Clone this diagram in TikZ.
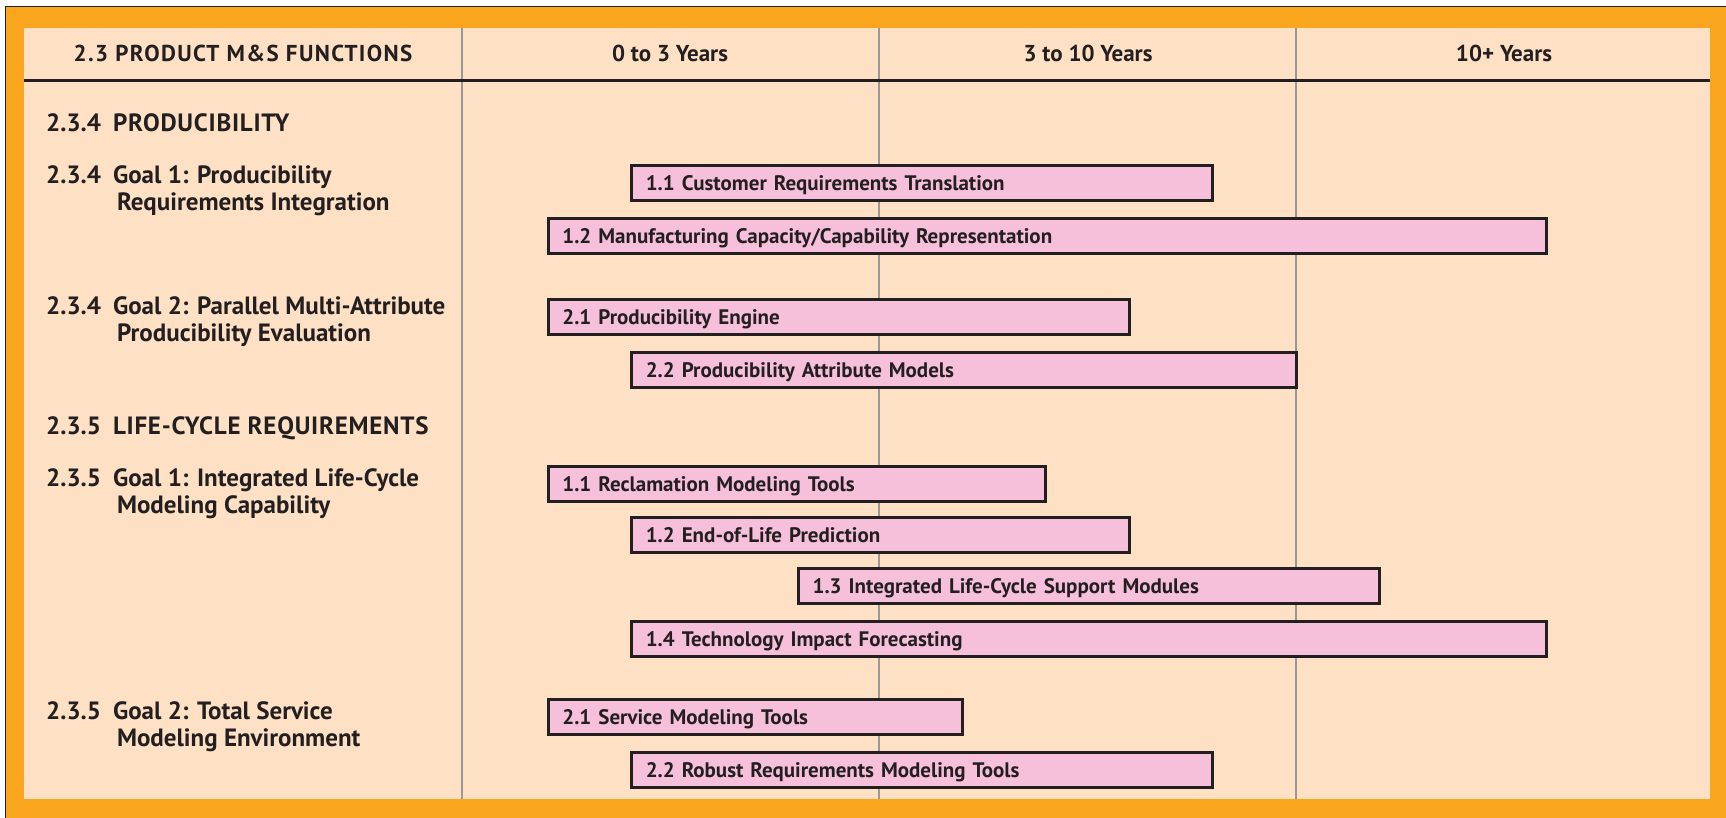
\documentclass[tikz,border=0pt]{standalone}
\usepackage{fontspec}
\setmainfont{PT Sans}
\usetikzlibrary{positioning}
\definecolor{frameorange}{RGB}{249,165,30}
\definecolor{paper}{RGB}{254,225,196}
\definecolor{barpink}{RGB}{246,192,218}
\definecolor{ink}{RGB}{35,31,32}
\definecolor{rulegray}{RGB}{152,152,152}
\newcommand\goallabel[3]{\begin{tabular}{@{}l@{\hspace{12pt}}l@{}}#1&#2\\&\hspace{4pt}#3\end{tabular}}
\newcommand\seclabel[2]{\begin{tabular}{@{}l@{\hspace{12pt}}l@{}}#1&\addfontfeature{LetterSpace=3}#2\end{tabular}}
\begin{document}
\begin{tikzpicture}[x=1pt, y=-1pt,
  bar/.style={draw=ink, line width=3pt, fill=barpink, minimum height=35pt, anchor=west,
    inner xsep=14pt, inner ysep=0pt, text height=15pt, text depth=0pt, align=left, text=ink,
    font=\fontsize{21}{24}\selectfont\bfseries},
  goal/.style={anchor=west, inner sep=0pt, align=left, text=ink, font=\fontsize{25}{27}\selectfont\bfseries},
  head/.style={text=ink, font=\fontsize{23}{26}\selectfont\bfseries}]
  \useasboundingbox (0,0) rectangle (1726,817);
  % frame
  \fill [white] (0,0) rectangle (1726,817);
  \draw [ink, line width=1pt, fill=frameorange] (5,6) rectangle (1728,819);
  \fill [paper] (24,28) rectangle (1710,799);
  % columns
  \foreach \c in {462,879,1296} {
    \draw [rulegray, line width=2.5pt] (\c,28) -- (\c,799);
  };
  \draw [ink, line width=3pt] (24,80) -- (1710,80);
  % header
  \node [head] (hfun) at (243,53) {\addfontfeature{LetterSpace=6}2.3 PRODUCT M\&S FUNCTIONS};
  \node [head] (h03) at (670,53) {0 to 3 Years};
  \node [head] (h310) at (1088,53) {3 to 10 Years};
  \node [head] (h10) at (1504,53) {10+ Years};
  % goals
  \node [goal] (s234) at (46,126) {\seclabel{2.3.4}{PRODUCIBILITY}};
  \node [goal] (g2341) at (46,192) {\goallabel{2.3.4}{Goal 1: Producibility}{Requirements Integration}};
  \node [goal] (g2342) at (46,323) {\goallabel{2.3.4}{Goal 2: Parallel Multi-Attribute}{Producibility Evaluation}};
  \node [goal] (s235) at (46,429) {\seclabel{2.3.5}{LIFE-CYCLE REQUIREMENTS}};
  \node [goal] (g2351) at (46,495) {\goallabel{2.3.5}{Goal 1: Integrated Life-Cycle}{Modeling Capability}};
  \node [goal] (g2352) at (46,728) {\goallabel{2.3.5}{Goal 2: Total Service}{Modeling Environment}};
  % bars, start/end in fifths of a column
  \foreach \a/\b/\y/\n/\t in {
    2/9/183/p11/{1.1 Customer Requirements Translation},
    1/13/236/p12/{1.2 Manufacturing Capacity/Capability Representation},
    1/8/317/p21/{2.1 Producibility Engine},
    2/10/370/p22/{2.2 Producibility Attribute Models},
    1/7/484/l11/{1.1 Reclamation Modeling Tools},
    2/8/535/l12/{1.2 End-of-Life Prediction},
    4/11/586/l13/{1.3 Integrated Life-Cycle Support Modules},
    2/13/639/l14/{1.4 Technology Impact Forecasting},
    1/6/717/l21/{2.1 Service Modeling Tools},
    2/9/770/l22/{2.2 Robust Requirements Modeling Tools}} {
    \pgfmathsetmacro{\w}{(\b-\a)*83.4-31}
    \node [bar, text width=\w pt] (\n) at (462+\a*83.4+1.5,\y) {\t};
  };
\end{tikzpicture}
\end{document}
